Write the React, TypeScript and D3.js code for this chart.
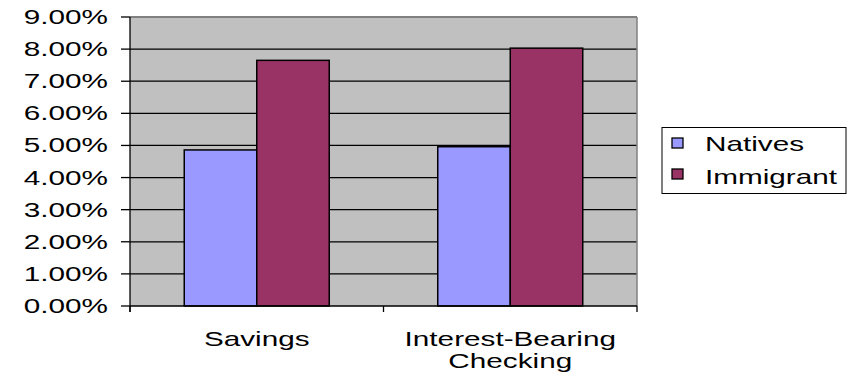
import * as d3 from "d3"

const categories = ["Savings", "Interest-Bearing\nChecking"]
const seriesNames = ["Natives", "Immigrant"]
const natives = [0.0486, 0.0496]
const immigrant = [0.0765, 0.0803]
const yTicks = [0, 0.01, 0.02, 0.03, 0.04, 0.05, 0.06, 0.07, 0.08, 0.09]
const colors = ["#9999FF", "#993366"]

const W = 847
const H = 374
const plot = { left: 130, right: 637, top: 17, bottom: 306 }
const SX = 1.45
const FONT = "'Liberation Sans', Arial, sans-serif"

function Label({ x, y, anchor = "start", children }: { x: number; y: number; anchor?: string; children: any }) {
  return (
    <text
      transform={`translate(${x},${y}) scale(${SX},1)`}
      textAnchor={anchor}
      fontFamily={FONT}
      fontSize={20.5}
      fill="#000"
    >
      {children}
    </text>
  )
}

export default function App() {
  const y = d3.scaleLinear().domain([0, 0.09]).range([plot.bottom, plot.top])
  const x = d3.scaleBand().domain(categories).range([plot.left, plot.right]).padding(0)
  const groupW = x.bandwidth() * 0.572
  const xs = d3.scaleBand().domain(seriesNames).range([0, groupW]).padding(0)
  const values = [natives, immigrant]

  return (
    <svg width={W} height={H} style={{ position: "absolute", left: 0, top: 0, background: "#fff" }}>
      <rect x={plot.left} y={plot.top} width={plot.right - plot.left} height={plot.bottom - plot.top} fill="#C0C0C0" />
      {/* gridlines */}
      {yTicks.slice(1).map((t) => (
        <line key={t} x1={plot.left} x2={plot.right} y1={y(t)} y2={y(t)} stroke="#000" strokeWidth={1.3} />
      ))}
      {/* plot border top / right */}
      <line x1={plot.left} x2={plot.right} y1={plot.top} y2={plot.top} stroke="#808080" strokeWidth={2} />
      <line x1={plot.right} x2={plot.right} y1={plot.top} y2={plot.bottom} stroke="#808080" strokeWidth={1.5} />
      {/* bars */}
      {categories.map((c, i) =>
        seriesNames.map((s, j) => {
          const bx = x(c)! + (x.bandwidth() - groupW) / 2 + xs(s)!
          return (
            <rect
              key={c + s}
              x={bx}
              y={y(values[j][i])}
              width={xs.bandwidth()}
              height={plot.bottom - y(values[j][i])}
              fill={colors[j]}
              stroke="#000"
              strokeWidth={1.5}
            />
          )
        })
      )}
      {/* axes */}
      <line x1={plot.left} x2={plot.left} y1={plot.top} y2={plot.bottom + 6} stroke="#000" strokeWidth={1.3} />
      <line x1={plot.left} x2={plot.right} y1={plot.bottom} y2={plot.bottom} stroke="#000" strokeWidth={1.3} />
      {yTicks.map((t) => (
        <g key={"yt" + t}>
          <line x1={plot.left - 9} x2={plot.left} y1={y(t)} y2={y(t)} stroke="#000" strokeWidth={1.3} />
          <Label x={108} y={y(t) + 7} anchor="end">
            {d3.format(".2%")(t)}
          </Label>
        </g>
      ))}
      {[...categories.map((c) => x(c)!), plot.right].map((px, i) => (
        <line key={"xt" + i} x1={px} x2={px} y1={plot.bottom} y2={plot.bottom + 6} stroke="#000" strokeWidth={1.3} />
      ))}
      {categories.map((c) => {
        const cx = x(c)! + x.bandwidth() / 2
        return c.split("\n").map((line, k) => (
          <Label key={c + k} x={cx} y={346 + k * 22} anchor="middle">
            {line}
          </Label>
        ))
      })}
      {/* legend */}
      <rect x={662} y={127.5} width={184} height={66} fill="#fff" stroke="#000" strokeWidth={1} />
      {seriesNames.map((s, j) => (
        <g key={"lg" + s}>
          <rect x={672} y={138 + j * 31} width={11} height={10} fill={colors[j]} stroke="#000" strokeWidth={1.3} />
          <Label x={705} y={151 + j * 33}>
            {s}
          </Label>
        </g>
      ))}
    </svg>
  )
}
